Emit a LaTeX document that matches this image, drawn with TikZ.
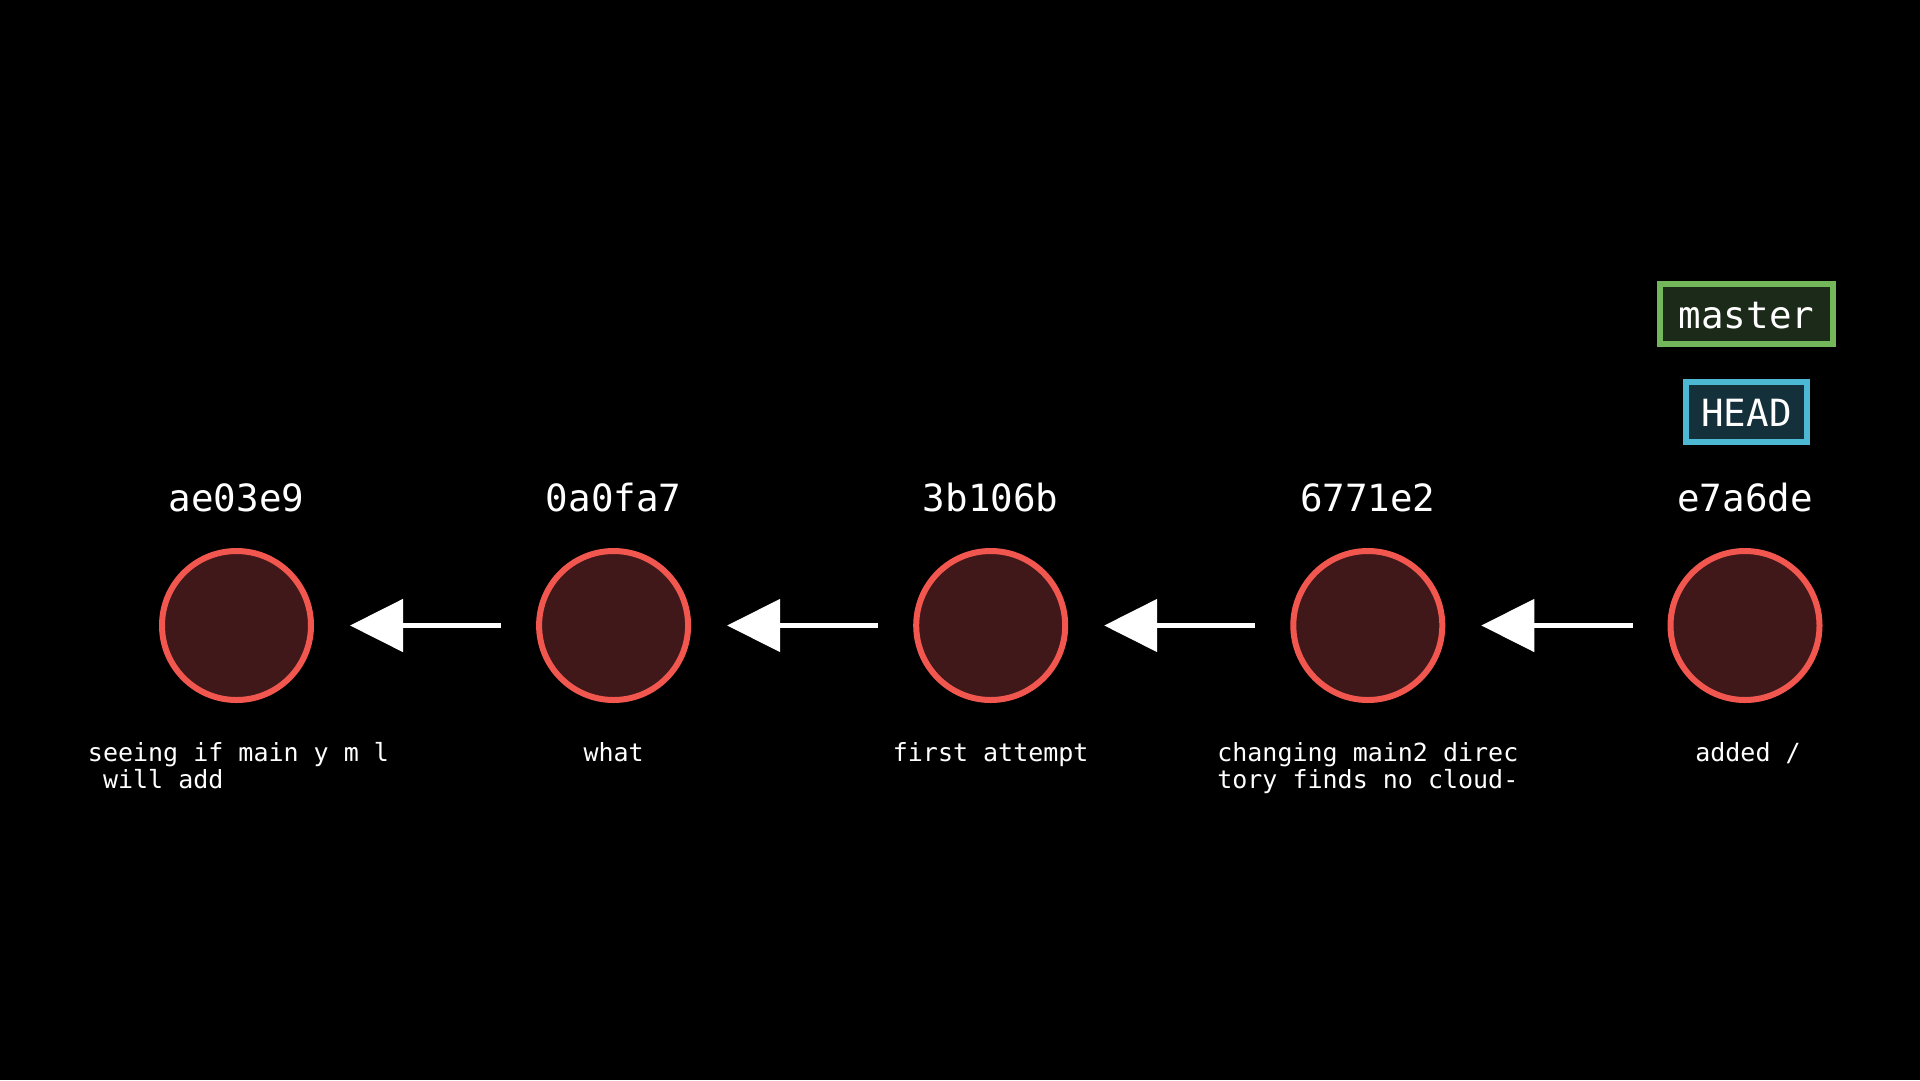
\documentclass[tikz,border=0pt]{standalone}
\usepackage{fontspec}
\setmainfont{DejaVu Sans Mono}
\setmonofont{DejaVu Sans Mono}
\usetikzlibrary{arrows.meta}
\definecolor{commitfill}{HTML}{41181A}
\definecolor{commitline}{HTML}{F2574F}
\definecolor{masterfill}{HTML}{1C2B19}
\definecolor{masterline}{HTML}{74B65A}
\definecolor{headfill}{HTML}{13303B}
\definecolor{headline}{HTML}{4DB8D4}
\tikzset{
  commit/.style={circle,draw=commitline,fill=commitfill,line width=6pt,minimum size=149pt,inner sep=0pt},
  hashlbl/.style={text=white,font=\fontsize{37.5}{40}\selectfont,anchor=base,inner sep=0pt},
  msglbl/.style={text=white,font=\fontsize{25}{27}\selectfont,anchor=base,inner sep=0pt,align=left},
  parentarrow/.style={draw=white,line width=5pt,-{Triangle[length=53pt,width=52pt]},shorten <=35pt,shorten >=36pt},
  reflbl/.style={line width=6pt,minimum height=60pt,inner sep=0pt,text=white,font=\fontsize{37.5}{40}\selectfont,text height=28pt,text depth=0pt}
}
\begin{document}
\begin{tikzpicture}[x=1pt,y=-1pt]
\fill[black] (0,0) rectangle (1920,1080);
\useasboundingbox (0,0) rectangle (1920,1080);
\node[commit] (c1) at (236.5,625.5) {};
\node[commit] (c2) at (613.6,625.5) {};
\node[commit] (c3) at (990.7,625.5) {};
\node[commit] (c4) at (1367.8,625.5) {};
\node[commit] (c5) at (1745,625.5) {};
\node[hashlbl] (h1) at (236.5,511) {ae03e9};
\node[hashlbl] (h2) at (613.6,511) {0a0fa7};
\node[hashlbl] (h3) at (990.7,511) {3b106b};
\node[hashlbl] (h4) at (1367.8,511) {6771e2};
\node[hashlbl] (h5) at (1745,511) {e7a6de};
\node[msglbl] (m1) at (238.5,788) {seeing if main y m l\\\hphantom{x}will add};
\node[msglbl] (m2) at (613.6,761) {what};
\node[msglbl] (m3) at (990.7,761) {first attempt};
\node[msglbl] (m4) at (1367.8,788) {changing main2 direc\\tory finds no cloud-};
\node[msglbl] (m5) at (1748,761) {added /};
\draw[parentarrow] (c2) -- (c1);
\draw[parentarrow] (c3) -- (c2);
\draw[parentarrow] (c4) -- (c3);
\draw[parentarrow] (c5) -- (c4);
\node[reflbl,draw=masterline,fill=masterfill,minimum width=173pt] (master) at (1746.5,314) {master};
\node[reflbl,draw=headline,fill=headfill,minimum width=121pt] (head) at (1746.5,412) {HEAD};
\end{tikzpicture}
\end{document}
